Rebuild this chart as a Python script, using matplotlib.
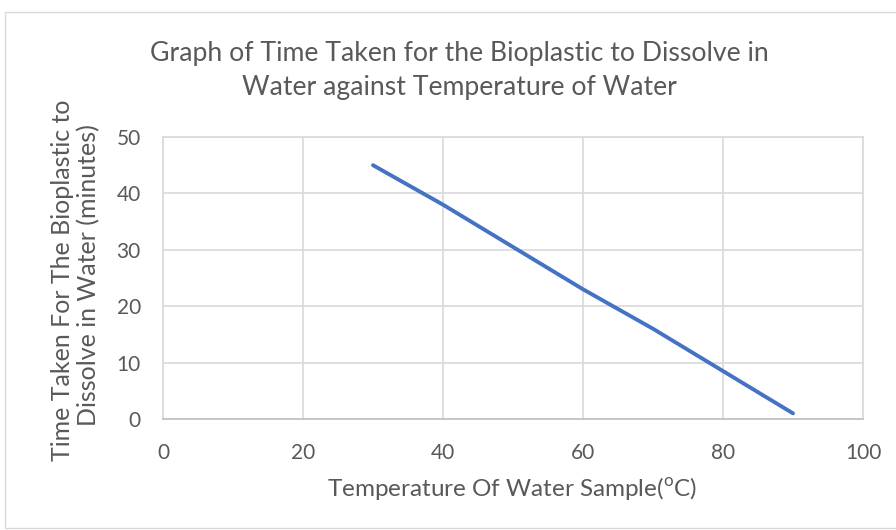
import matplotlib.pyplot as plt
from matplotlib.patches import Rectangle

plt.rcParams['font.family'] = ['Lato', 'DejaVu Sans']

temperature = [30, 40, 50, 60, 70, 80, 90]
time_taken = [45, 38, 30.5, 23, 16, 8.5, 1]
x_ticks = [0, 20, 40, 60, 80, 100]
y_ticks = [0, 10, 20, 30, 40, 50]

W, H = 896, 530
fig = plt.figure(figsize=(W / 100, H / 100), dpi=100)
fig.patches.append(Rectangle((5 / W, 2 / H), 895 / W, 516 / H, transform=fig.transFigure,
                             fill=False, edgecolor='#D9D9D9', linewidth=1))

ax = fig.add_axes([163 / W, 1 - 419 / H, 700 / W, 282 / H])
ax.plot(temperature, time_taken, color='#4472C4', linewidth=2.8, solid_capstyle='round')

ax.set_xlim(0, 100)
ax.set_ylim(0, 50)
ax.set_xticks(x_ticks)
ax.set_yticks(y_ticks)
ax.grid(True, color='#D9D9D9', linewidth=1.2)
ax.set_axisbelow(True)
for s in ['top', 'right', 'left']:
    ax.spines[s].set_color('#D9D9D9')
    ax.spines[s].set_linewidth(1.2)
ax.spines['bottom'].set_color('#BFBFBF')
ax.spines['bottom'].set_linewidth(1.2)
ax.tick_params(length=0, labelsize=15, labelcolor='#595959')
ax.tick_params(axis='x', pad=17)
ax.tick_params(axis='y', pad=16)

fig.text(459 / W, 1 - 53 / H, 'Graph of Time Taken for the Bioplastic to Dissolve in',
         ha='center', va='center', fontsize=19.2, color='#595959')
fig.text(459 / W, 1 - 88 / H, 'Water against Temperature of Water',
         ha='center', va='center', fontsize=19.2, color='#595959')

fig.text(512 / W, 1 - 489 / H, 'Temperature Of Water Sample($^{\\mathregular{o}}$C)',
         ha='center', va='center', fontsize=17.5, color='#595959')
fig.text(62 / W, 1 - 280 / H, 'Time Taken For The Bioplastic to',
         ha='center', va='center', rotation=90, fontsize=18, color='#595959')
fig.text(89 / W, 1 - 275 / H, 'Dissolve in Water (minutes)',
         ha='center', va='center', rotation=90, fontsize=18, color='#595959')

fig.savefig('out.png', dpi=100)
